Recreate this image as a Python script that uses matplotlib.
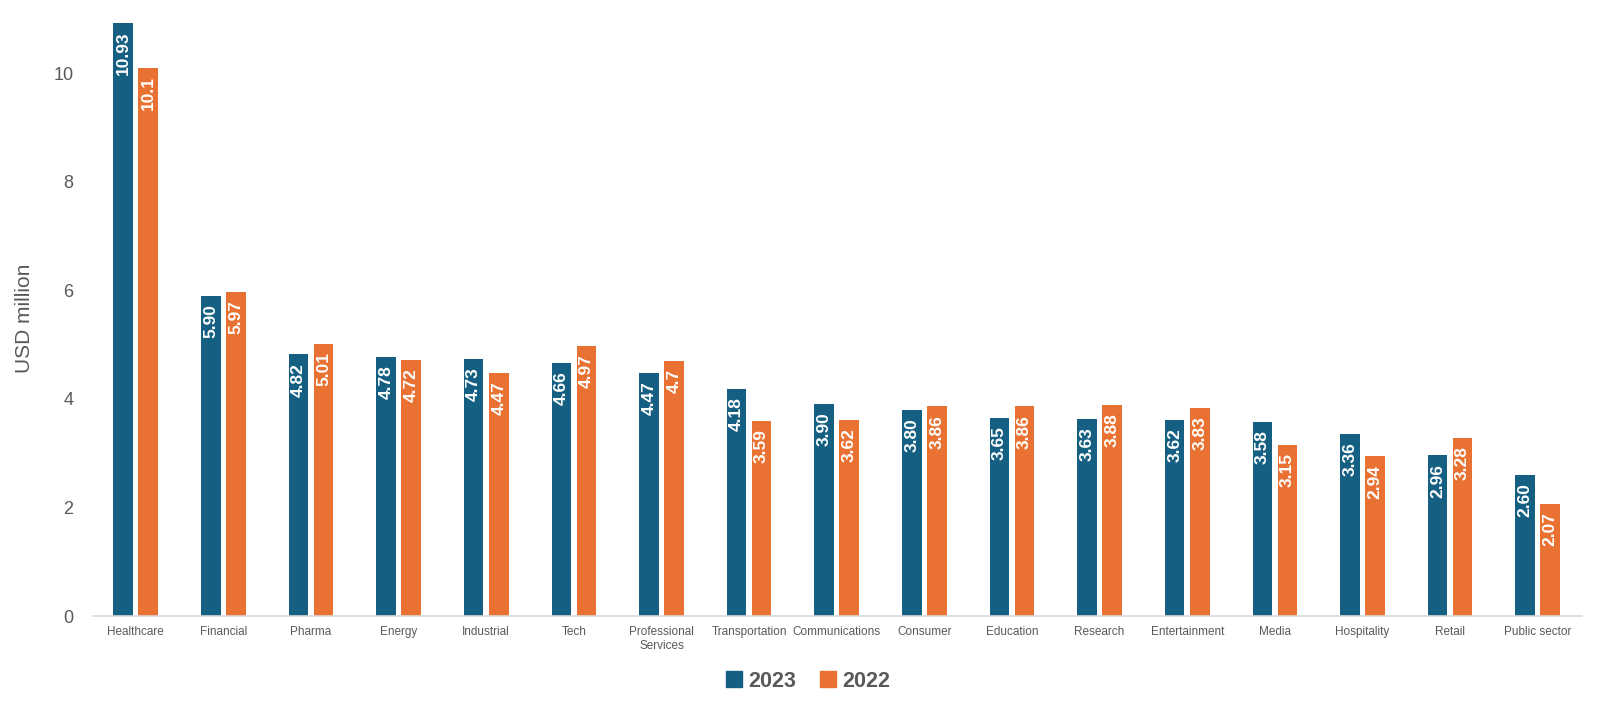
import matplotlib
matplotlib.use("Agg")
import matplotlib.pyplot as plt
import numpy as np
from matplotlib.patches import Patch

categories = ["Healthcare", "Financial", "Pharma", "Energy", "Industrial", "Tech",
              "Professional\nServices", "Transportation", "Communications", "Consumer",
              "Education", "Research", "Entertainment", "Media", "Hospitality", "Retail",
              "Public sector"]
values_2023 = [10.93, 5.90, 4.82, 4.78, 4.73, 4.66, 4.47, 4.18, 3.90, 3.80, 3.65, 3.63,
               3.62, 3.58, 3.36, 2.96, 2.60]
values_2022 = [10.1, 5.97, 5.01, 4.72, 4.47, 4.97, 4.7, 3.59, 3.62, 3.86, 3.86, 3.88,
               3.83, 3.15, 2.94, 3.28, 2.07]
labels_2023 = ["10.93", "5.90", "4.82", "4.78", "4.73", "4.66", "4.47", "4.18", "3.90",
               "3.80", "3.65", "3.63", "3.62", "3.58", "3.36", "2.96", "2.60"]
labels_2022 = ["10.1", "5.97", "5.01", "4.72", "4.47", "4.97", "4.7", "3.59", "3.62",
               "3.86", "3.86", "3.88", "3.83", "3.15", "2.94", "3.28", "2.07"]

c23 = "#156082"
c22 = "#E97132"

plt.rcParams['font.family'] = ['Liberation Sans', 'DejaVu Sans']

fig = plt.figure(figsize=(16, 7.11), dpi=100)
ax = fig.add_axes([0.058, 0.1336, 0.931, 0.836])

x = np.arange(len(categories))
w = 0.223
off = 0.143
b1 = ax.bar(x - off, values_2023, w, color=c23)
b2 = ax.bar(x + off, values_2022, w, color=c22)

for bars, labs in ((b1, labels_2023), (b2, labels_2022)):
    for rect, lab in zip(bars, labs):
        ax.annotate(lab, (rect.get_x() + rect.get_width() / 2, rect.get_height()),
                    xytext=(0, -6), textcoords="offset points",
                    rotation=90, ha="center", va="top", color="white",
                    fontsize=12.5, fontweight="bold")

ax.set_xlim(-0.49, len(categories) - 0.49)
ax.set_ylim(0, 10.95)
ax.set_yticks([0, 2, 4, 6, 8, 10])
ax.set_xticks(x)
ax.set_xticklabels(categories, fontsize=8.5, color="#595959")
ax.tick_params(axis="y", labelsize=13, labelcolor="#595959", length=0, pad=14)
ax.tick_params(axis="x", length=0, pad=7)
ax.set_ylabel("USD million", fontsize=15, color="#595959")
ax.yaxis.set_label_coords(-0.0396, 0.5)

for s in ["top", "right", "left"]:
    ax.spines[s].set_visible(False)
ax.spines["bottom"].set_color("#D9D9D9")
ax.spines["bottom"].set_linewidth(1.2)

handles = [Patch(color=c23, label="2023"), Patch(color=c22, label="2022")]
fig.legend(handles=handles, loc="center", bbox_to_anchor=(0.505, 0.042), ncol=2,
           frameon=False, prop={"size": 15.5, "weight": "bold"},
           labelcolor="#595959", handlelength=0.75, handleheight=0.75,
           handletextpad=0.3, columnspacing=1.1)

fig.savefig("out.png", dpi=100)
